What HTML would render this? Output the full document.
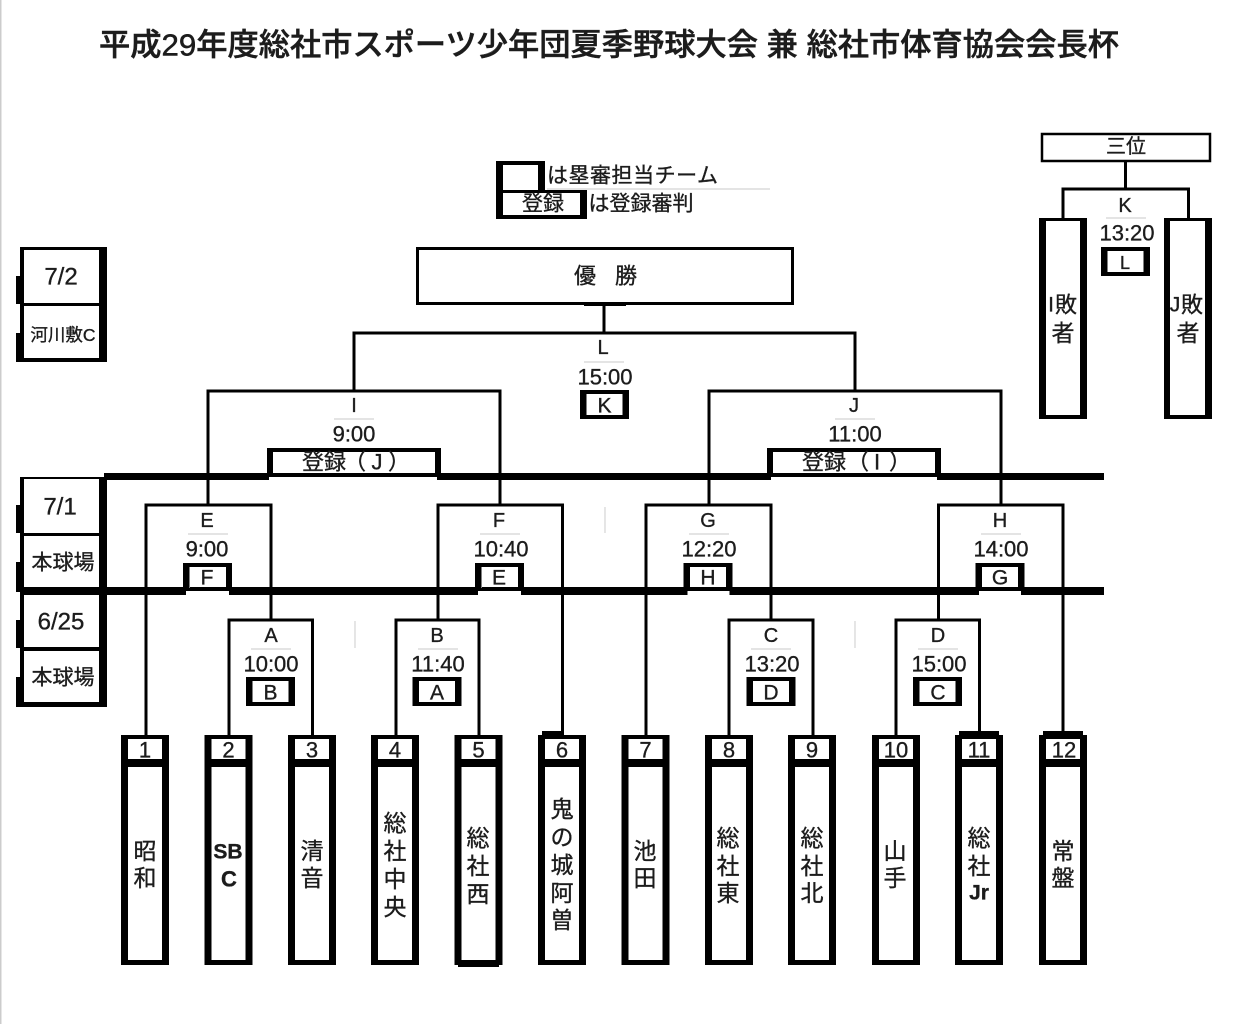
<!DOCTYPE html>
<html lang="ja"><head><meta charset="utf-8"><title>平成29年度総社市スポーツ少年団夏季野球大会</title>
<style>
html,body{margin:0;padding:0;background:#fff;width:1258px;height:1024px;overflow:hidden}
svg{display:block}
text{font-family:"Liberation Sans","Noto Sans CJK JP",sans-serif;fill:#1c1c1c;stroke:#1c1c1c;stroke-width:.35;text-anchor:middle;dominant-baseline:central;transform:translateY(1px)}
.l{font-size:20px}.tm{font-size:22px}.u{font-size:21px}.n{font-size:22px}.c{font-size:23px}.lb{font-size:21px}
.br{stroke:#000;stroke-width:3;fill:none}
.g{stroke:#d4d4d4;stroke-width:1.2}
</style></head><body>
<svg width="1258" height="1024" viewBox="0 0 1258 1024" xmlns="http://www.w3.org/2000/svg">
<defs>
<g id="t"><rect x="-24" y="735" width="48" height="230" fill="#000"/><rect x="-17" y="739" width="34" height="20" fill="#fff"/><rect x="-17" y="767" width="34" height="193" fill="#fff"/></g>
<g id="u"><rect x="-24.5" y="0" width="49" height="29" fill="#000"/><rect x="-18" y="4" width="36" height="21" fill="#fff"/></g>
</defs>
<rect x="0" y="0" width="1.5" height="1024" fill="#ccc"/>
<text x="609" y="44" font-size="31" font-weight="500" textLength="1020" lengthAdjust="spacingAndGlyphs" style="stroke-width:.5">平成29年度総社市スポーツ少年団夏季野球大会 兼 総社市体育協会会長杯</text>

<!-- legend -->
<line x1="547" y1="189" x2="770" y2="189" class="g"/>
<rect x="496" y="161" width="49" height="30" fill="#000"/><rect x="503" y="165" width="35" height="26" fill="#fff"/>
<rect x="496" y="190" width="91" height="29" fill="#000"/><rect x="503" y="193" width="77" height="22" fill="#fff"/>
<text x="632.5" y="175" font-size="21" textLength="171">は塁審担当チーム</text>
<text x="543" y="203" font-size="21">登録</text>
<text x="641" y="203" font-size="21">は登録審判</text>

<!-- date tables -->
<rect x="20" y="247" width="87" height="115" fill="#000"/>
<rect x="16" y="276" width="5" height="28" fill="#000"/><rect x="16" y="333" width="5" height="29" fill="#000"/>
<rect x="24" y="250" width="75" height="53" fill="#fff"/><rect x="24" y="306" width="75" height="52" fill="#fff"/>
<text x="61" y="276" font-size="24">7/2</text>
<text x="63" y="334" font-size="17.5">河川敷C</text>

<rect x="20" y="477" width="87" height="230" fill="#000"/>
<rect x="16" y="505" width="5" height="28" fill="#000"/><rect x="16" y="562" width="5" height="30" fill="#000"/>
<rect x="16" y="620" width="5" height="28" fill="#000"/><rect x="16" y="677" width="5" height="30" fill="#000"/>
<rect x="24" y="479" width="75" height="54" fill="#fff"/><rect x="24" y="536" width="75" height="51" fill="#fff"/>
<rect x="24" y="595" width="75" height="52" fill="#fff"/><rect x="24" y="651" width="75" height="51" fill="#fff"/>
<text x="60" y="506" font-size="24">7/1</text>
<text x="63" y="562" font-size="21">本球場</text>
<text x="61" y="621" font-size="24">6/25</text>
<text x="63" y="677" font-size="21">本球場</text>

<!-- main lines -->
<rect x="104" y="473" width="1000" height="7" fill="#000"/>
<rect x="104" y="587" width="1000" height="8" fill="#000"/>

<!-- champion -->
<rect x="417.5" y="248.5" width="375" height="55" fill="#fff" stroke="#000" stroke-width="3"/>
<rect x="584" y="303" width="42" height="3" fill="#000"/>
<text x="585" y="275" font-size="22">優</text><text x="626" y="275" font-size="22">勝</text>

<!-- brackets -->
<path class="br" d="M604 303V333M354 391V333H855V391"/>
<path class="br" d="M208 505V391H500V505M709 505V391H1001V505"/>
<path class="br" d="M146 735V505H271V620M438 620V505H562.500V735M646 735V505H771V620M938.500 620V505H1063V735"/>
<path class="br" d="M229 735V620H312.500V735M396 735V620H479V735M729 735V620H813V735M896 735V620H979.500V735"/>

<!-- registration boxes -->
<rect x="267" y="448" width="174" height="29" fill="#000"/><rect x="273" y="452" width="162" height="21" fill="#fff"/>
<rect x="269" y="477" width="168" height="4" fill="#fff"/>
<rect x="767" y="448" width="174" height="29" fill="#000"/><rect x="773" y="452" width="162" height="21" fill="#fff"/>
<rect x="771" y="477" width="166" height="4" fill="#fff"/>
<text x="324" y="461" font-size="22">登録</text><text x="355" y="461" font-size="22">（</text><text x="377" y="461" font-size="22">J</text><text x="399" y="461" font-size="22">）</text>
<text x="824" y="461" font-size="22">登録</text><text x="858" y="461" font-size="22">（</text><text x="877" y="461" font-size="22">I</text><text x="900" y="461" font-size="22">）</text>

<!-- umpire boxes on line 2 -->
<use href="#u" x="207.500" y="563"/><rect x="186" y="591" width="43" height="5" fill="#fff"/><rect x="190" y="567" width="36" height="24" fill="#fff"/>
<use href="#u" x="499.500" y="563"/><rect x="478" y="591" width="43" height="5" fill="#fff"/><rect x="482" y="567" width="36" height="24" fill="#fff"/>
<use href="#u" x="708" y="563"/><rect x="687.500" y="591" width="42" height="5" fill="#fff"/><rect x="690" y="567" width="36" height="24" fill="#fff"/>
<use href="#u" x="1000" y="563"/><rect x="979" y="591" width="42" height="5" fill="#fff"/><rect x="982" y="567" width="36" height="24" fill="#fff"/>
<rect x="190" y="587" width="36" height="4" fill="#000"/>
<rect x="482" y="587" width="36" height="4" fill="#000"/>
<rect x="690" y="587" width="36" height="4" fill="#000"/>
<rect x="982" y="587" width="36" height="4" fill="#000"/>

<!-- other umpire boxes -->
<use href="#u" x="270.500" y="677"/><use href="#u" x="437" y="677"/><use href="#u" x="771" y="677"/><use href="#u" x="937.500" y="677"/>
<use href="#u" x="604.500" y="390"/><use href="#u" x="1125.500" y="247"/>

<!-- gray rules -->
<path class="g" d="M584 362H624M334 419H374M835 419H875M188 534H228M480 534H520M689 534H729M981 534H1021M251 649H291M418 649H458M751 649H791M918 649H958M1106 218H1146"/>
<path class="g" d="M605 507V533M355 621V648M855 621V648"/>

<!-- match labels -->
<text x="603" y="347" class="l">L</text><text x="605" y="376" class="tm">15:00</text><text x="604.500" y="405" class="u">K</text>
<text x="354" y="405" class="l">I</text><text x="354" y="433" class="tm">9:00</text>
<text x="854" y="405" class="l">J</text><text x="855" y="433" class="tm">11:00</text>
<text x="207" y="520" class="l">E</text><text x="207" y="548" class="tm">9:00</text><text x="207" y="577" class="u">F</text>
<text x="499" y="520" class="l">F</text><text x="501" y="548" class="tm">10:40</text><text x="499" y="577" class="u">E</text>
<text x="708" y="520" class="l">G</text><text x="709" y="548" class="tm">12:20</text><text x="708" y="577" class="u">H</text>
<text x="1000" y="520" class="l">H</text><text x="1001" y="548" class="tm">14:00</text><text x="1000" y="577" class="u">G</text>
<text x="271" y="635" class="l">A</text><text x="271" y="663" class="tm">10:00</text><text x="270.500" y="692" class="u">B</text>
<text x="437" y="635" class="l">B</text><text x="438" y="663" class="tm">11:40</text><text x="437" y="692" class="u">A</text>
<text x="771" y="635" class="l">C</text><text x="772" y="663" class="tm">13:20</text><text x="771" y="692" class="u">D</text>
<text x="938" y="635" class="l">D</text><text x="939" y="663" class="tm">15:00</text><text x="938" y="692" class="u">C</text>

<!-- teams -->
<use href="#t" x="145"/><use href="#t" x="228.500"/><use href="#t" x="312"/><use href="#t" x="395"/><use href="#t" x="478.500"/><use href="#t" x="562"/>
<use href="#t" x="645.500"/><use href="#t" x="729"/><use href="#t" x="812"/><use href="#t" x="896"/><use href="#t" x="979"/><use href="#t" x="1063"/>
<rect x="542" y="731" width="22" height="5" fill="#000"/><rect x="959" y="731" width="40" height="5" fill="#000"/><rect x="1043" y="731" width="40" height="5" fill="#000"/>
<rect x="458" y="960" width="41" height="7" fill="#000"/>
<text x="145" y="749" class="n">1</text><text x="228.500" y="749" class="n">2</text><text x="312" y="749" class="n">3</text><text x="395" y="749" class="n">4</text><text x="478.500" y="749" class="n">5</text><text x="562" y="749" class="n">6</text>
<text x="645.500" y="749" class="n">7</text><text x="729" y="749" class="n">8</text><text x="812" y="749" class="n">9</text><text x="896" y="749" class="n">10</text><text x="979" y="749" class="n">11</text><text x="1064" y="749" class="n">12</text>

<text x="145" y="850" class="c">昭</text><text x="145" y="877" class="c">和</text>
<text x="228" y="851" font-size="21" font-weight="bold">SB</text><text x="229" y="878" font-size="22" font-weight="bold">C</text>
<text x="312" y="850" class="c">清</text><text x="312" y="877" class="c">音</text>
<text x="395" y="822" class="c">総</text><text x="395" y="850" class="c">社</text><text x="395" y="878" class="c">中</text><text x="395" y="906" class="c">央</text>
<text x="478" y="837" class="c">総</text><text x="478" y="865" class="c">社</text><text x="478" y="893" class="c">西</text>
<text x="562" y="808" class="c">鬼</text><text x="562" y="836" class="c">の</text><text x="562" y="864" class="c">城</text><text x="562" y="892" class="c">阿</text><text x="562" y="919" class="c">曽</text>
<text x="645" y="850" class="c">池</text><text x="645" y="877" class="c">田</text>
<text x="728" y="837" class="c">総</text><text x="728" y="865" class="c">社</text><text x="728" y="892" class="c">東</text>
<text x="812" y="837" class="c">総</text><text x="812" y="865" class="c">社</text><text x="812" y="892" class="c">北</text>
<text x="895" y="850" class="c">山</text><text x="895" y="877" class="c">手</text>
<text x="979" y="837" class="c">総</text><text x="979" y="865" class="c">社</text><text x="979" y="892" font-size="21" font-weight="bold">Jr</text>
<text x="1063" y="850" class="c">常</text><text x="1063" y="877" class="c">盤</text>

<!-- third place -->
<rect x="1042" y="134" width="168" height="27" fill="#fff" stroke="#000" stroke-width="2.500"/>
<text x="1126" y="146" font-size="20">三位</text>
<path class="br" d="M1125.500 161V189M1063 218V189H1188.500V218"/>
<rect x="1039" y="218" width="48" height="201" fill="#000"/><rect x="1046" y="221" width="34" height="194" fill="#fff"/>
<rect x="1164" y="218" width="48" height="201" fill="#000"/><rect x="1170" y="221" width="35" height="194" fill="#fff"/>
<text x="1125" y="205" class="l">K</text><text x="1127" y="232" class="tm">13:20</text><text x="1125" y="262" font-size="18">L</text>
<text x="1051" y="304" font-size="21">I</text><text x="1066" y="304" font-size="22">敗</text><text x="1063" y="332" font-size="23">者</text>
<text x="1175" y="304" font-size="21">J</text><text x="1192" y="304" font-size="22">敗</text><text x="1188" y="332" font-size="23">者</text>
</svg>
</body></html>
